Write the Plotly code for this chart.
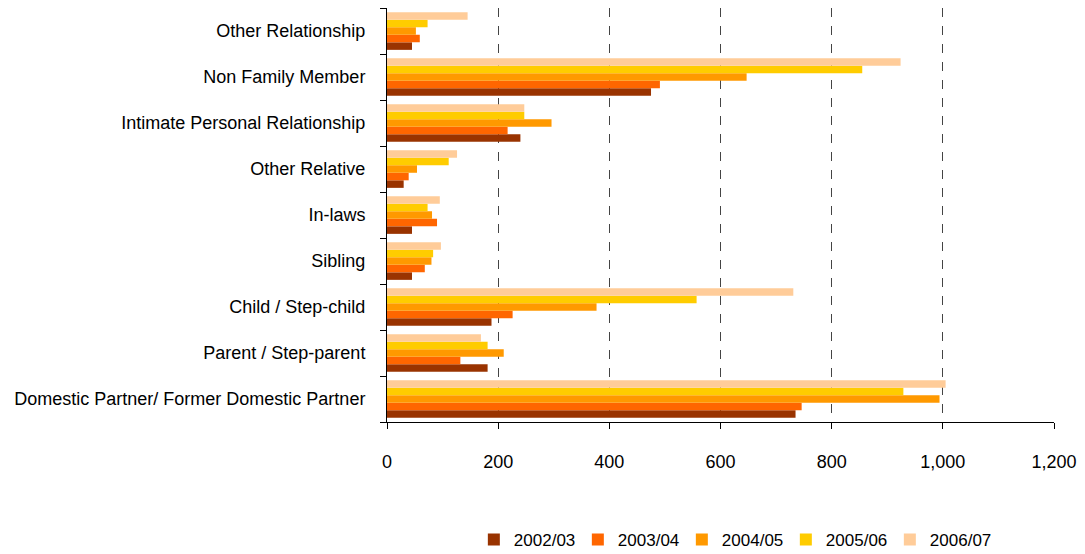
import plotly.graph_objects as go

categories = [
    "Domestic Partner/ Former Domestic Partner",
    "Parent / Step-parent",
    "Child / Step-child",
    "Sibling",
    "In-laws",
    "Other Relative",
    "Intimate Personal Relationship",
    "Non Family Member",
    "Other Relationship",
]
years = ["2002/03", "2003/04", "2004/05", "2005/06", "2006/07"]
v2002 = [735, 181, 188, 45, 45, 30, 240, 475, 45]
v2003 = [746, 132, 226, 68, 90, 39, 217, 491, 59]
v2004 = [994, 210, 377, 80, 81, 54, 296, 647, 52]
v2005 = [929, 181, 557, 83, 73, 111, 247, 855, 73]
v2006 = [1005, 169, 731, 97, 95, 126, 247, 924, 145]
colors = ["#993300", "#FF6600", "#FF9900", "#FFCC00", "#FFCC99"]
xticks = [0, 200, 400, 600, 800, 1000, 1200]
xticklabels = ["0", "200", "400", "600", "800", "1,000", "1,200"]

series = [v2002, v2003, v2004, v2005, v2006]
font_family = "Liberation Sans, Arial, sans-serif"

fig = go.Figure()
for name, vals, col in zip(years, series, colors):
    fig.add_trace(go.Bar(
        y=categories, x=vals, name=name, orientation="h",
        marker=dict(color=col, line=dict(width=0)),
    ))

fig.update_layout(
    width=1077, height=554,
    margin=dict(l=379, r=31, t=0, b=140),
    paper_bgcolor="white", plot_bgcolor="white",
    barmode="group", bargap=0.18, bargroupgap=0,
    font=dict(family=font_family, size=18, color="#000000"),
    legend=dict(
        orientation="h", x=0.52, xanchor="center", y=-0.285, yanchor="middle",
        font=dict(size=17), entrywidth=59, entrywidthmode="pixels",
        traceorder="normal",
    ),
    showlegend=True,
)
fig.update_xaxes(
    range=[0, 1200], tickvals=xticks, ticktext=xticklabels,
    showgrid=True, gridcolor="#444444", griddash="dash", gridwidth=1,
    showline=True, linecolor="#000000", linewidth=1,
    ticks="outside", ticklen=6, tickcolor="#000000",
    ticklabelstandoff=17, zeroline=False,
)
fig.update_yaxes(
    categoryorder="array", categoryarray=categories,
    showline=True, linecolor="#000000", linewidth=1,
    ticks="outside", ticklen=6, tickcolor="#000000", tickson="boundaries",
    ticklabelstandoff=17, showgrid=False,
)

fig.write_html("out.html")
